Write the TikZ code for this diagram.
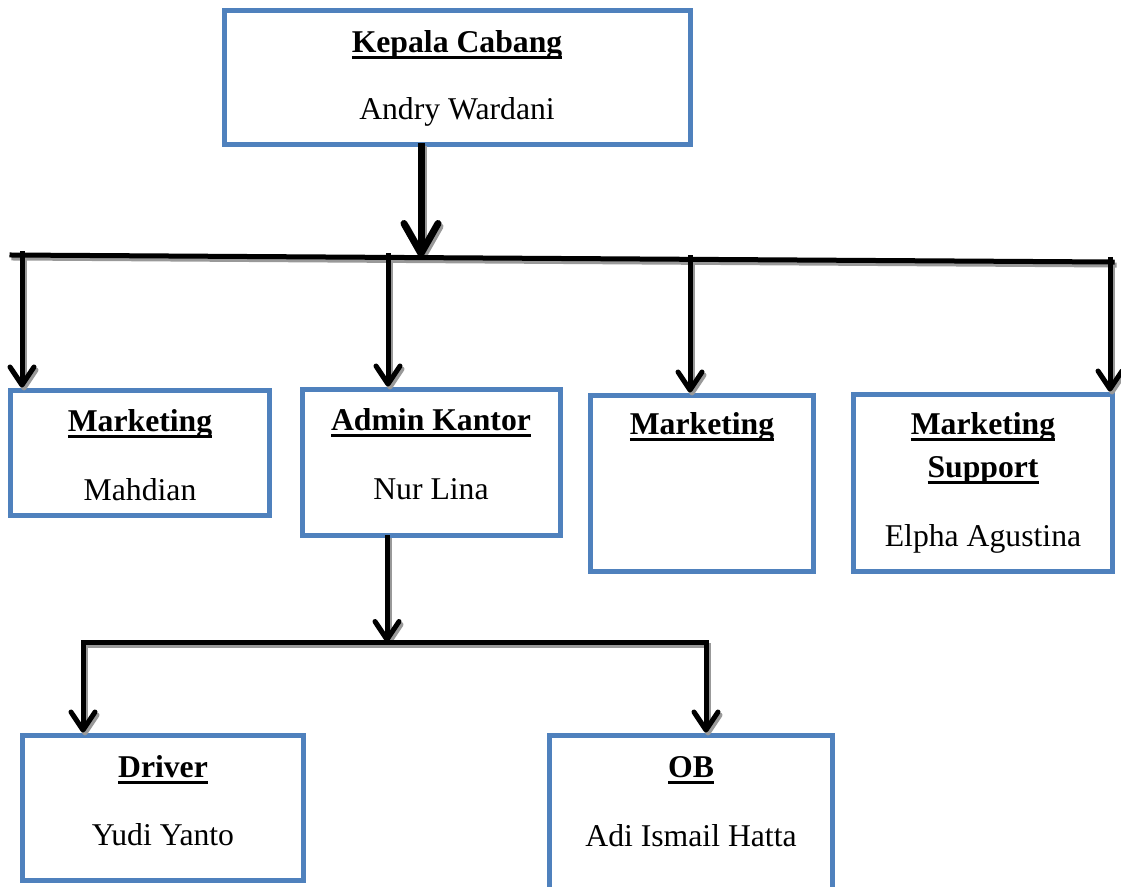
\documentclass[tikz,border=0pt]{standalone}
\usepackage{fontspec}
\setmainfont{Liberation Serif}
\usetikzlibrary{arrows.meta, calc, fit}

\definecolor{biru}{RGB}{79,129,189}
\newsavebox\gbbox
\newcommand{\garisbawah}[1]{\sbox\gbbox{#1}\rlap{\rule[-6.5pt]{\wd\gbbox}{2.6pt}}\usebox\gbbox}

\begin{document}
\begin{tikzpicture}[
    x=1pt, y=-1pt,
    kotak/.style={draw=biru, line width=5pt, inner sep=0pt},
    judul/.style={anchor=base, font=\fontsize{31.7}{38}\selectfont\bfseries},
    nama/.style={anchor=base, font=\fontsize{31.7}{38}\selectfont},
    garis/.style={line width=5pt, line cap=rect},
    panah/.style={garis, -{Straight Barb[length=18pt, width=24pt, round]}},
    panah besar/.style={garis, line width=7pt, -{Straight Barb[length=30pt, width=34pt, round]}}
]

\clip (0,0) rectangle (1121,886);

% Kepala cabang
\node[kotak, fit={(224,10) (690,144)}] (kepala) {};
\node[judul] (kepala-judul) at (457,52) {\garisbawah{Kepala Cabang}};
\node[nama] (kepala-nama) at (457,119) {Andry Wardani};

% Baris kedua
\node[kotak, fit={(10,390) (269,515)}] (mkt1) {};
\node[judul] (mkt1-judul) at (140,431) {\garisbawah{Marketing}};
\node[nama] (mkt1-nama) at (140,500) {Mahdian};

\node[kotak, fit={(302,389) (560,535)}] (admin) {};
\node[judul] (admin-judul) at (431,430) {\garisbawah{Admin Kantor}};
\node[nama] (admin-nama) at (431,499) {Nur Lina};

\node[kotak, fit={(590,395) (813,571)}] (mkt2) {};
\node[judul] (mkt2-judul) at (702,434) {\garisbawah{Marketing}};

\node[kotak, fit={(853,394) (1112,571)}] (ms) {};
\node[judul] (ms-judul1) at (983,434) {\garisbawah{Marketing}};
\node[judul] (ms-judul2) at (983,477) {\garisbawah{Support}};
\node[nama] (ms-nama) at (983,546) {Elpha Agustina};

% Baris ketiga
\node[kotak, fit={(22,735) (303,880)}] (driver) {};
\node[judul] (driver-judul) at (163,777) {\garisbawah{Driver}};
\node[nama] (driver-nama) at (163,845) {Yudi Yanto};

\node[kotak, fit={(549,735) (832,900)}] (ob) {};
\node[judul] (ob-judul) at (691,777) {\garisbawah{OB}};
\node[nama] (ob-nama) at (691,846) {Adi Ismail Hatta};

% Titik-titik garis pembagi
\coordinate (bus-kiri) at (12,255);
\coordinate (bus-kanan) at (1112,262);
\coordinate (bus-pusat) at (421,257);
\coordinate (cab1) at (22,253);
\coordinate (cab2) at (388,255);
\coordinate (cab3) at (690,257);
\coordinate (cab4) at (1110,259);
\coordinate (sub-pusat) at (387,642);
\coordinate (sub-kiri) at (83,642);
\coordinate (sub-kanan) at (706,642);

\newcommand{\penghubung}{%
  \draw[garis] (bus-kiri) -- (bus-kanan);
  \draw[panah besar] (kepala.south -| bus-pusat) -- (bus-pusat);
  \draw[panah] (cab1) -- (cab1 |- mkt1.north);
  \draw[panah] (cab2) -- (cab2 |- admin.north);
  \draw[panah] (cab3) -- (cab3 |- mkt2.north);
  \draw[panah] (cab4) -- (cab4 |- ms.north);
  \draw[panah] (admin.south -| sub-pusat) -- (sub-pusat);
  \draw[garis] (sub-kiri) -- (sub-kanan);
  \draw[panah] (sub-kiri) -- (sub-kiri |- driver.north);
  \draw[panah] (sub-kanan) -- (sub-kanan |- ob.north);
}

% Bayangan abu-abu
\begin{scope}[transform canvas={shift={(2pt,-3pt)}}, color=black!40]
  \penghubung
\end{scope}

% Garis dan panah
\penghubung

\end{tikzpicture}
\end{document}
